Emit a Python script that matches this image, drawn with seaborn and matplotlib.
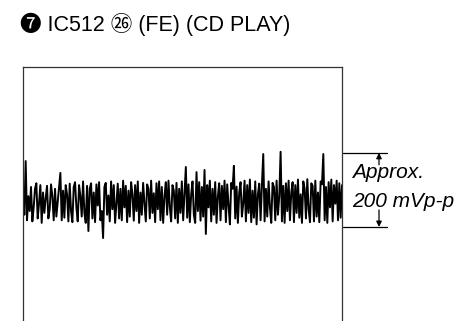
import matplotlib
matplotlib.use("Agg")
import matplotlib.pyplot as plt
import seaborn as sns
import pandas as pd

# Waveform samples in mV (left to right)
signal_mv = [
    15, -40, 105, -55, 10, -30, 35, -58, -20, 30, 45, -50, -10, 40, -62, 20, -35, 5, 38, -50,
    -25, 42, 10, -55, 30, -45, -5, 36, 73, -55, 25, -48, 40, 15, -58, 44, -30, -60, 35, 48,
    -20, -58, 40, 10, -45, 50, -35, -62, 38, -84, 30, 45, -50, 20, -60, 42, -15, 48, -55, -30,
    -103, 35, 46, -40, 12, -58, 50, -25, 40, -62, -10, 44, -50, 30, -55, 52, -20, 38, -60, 25,
    -45, 48, 15, -56, 40, -30, 50, -62, 20, -40, 46, -10, -58, 42, 30, -50, 52, -35, 18, -60,
    45, -25, 50, -55, 35, -62, 10, 48, -40, 52, -20, -58, 40, 25, -50, 46, -62, 30, -35, 50,
    -55, 20, 89, -48, 42, -60, 15, 50, -40, -62, 75, -30, 48, -56, 35, -45, 81, -92, 40, -20,
    52, -58, 30, -40, 48, -62, 10, 45, -55, 38, -25, 52, -60, 42, -15, -66, 46, 30, 92, -50,
    36, -62, 20, 48, -45, -10, 52, -58, 40, -35, 55, -60, 25, -48, 50, -66, 15, 44, -55, 40,
    124, -58, 30, -45, 50, -20, -62, 46, 35, -55, 52, -40, 10, 130, -58, 38, -62, 45, -30, 52,
    -55, 20, 48, -60, 40, -35, 55, -48, 15, -62, 50, 30, -50, 56, -25, -60, 45, 38, -58, 52,
    -45, 20, -60, 50, 42, 124, -55, 35, -62, 48, -20, 55, -58, 40, -10, 52, -55, 45, -48, 40,
]
sample_idx = list(range(len(signal_mv)))

title_text = "\u277c IC512 \u3256 (FE) (CD PLAY)"
annot_lines = ["Approx.", "200 mVp-p"]
pp_top_mv = 127
pp_bottom_mv = -73

sns.set_style("white")
fam = ["Liberation Sans", "Noto Sans CJK JP", "DejaVu Sans"]

fig = plt.figure(figsize=(4.58, 3.21), dpi=100)
W, H = 458, 321
ax = fig.add_axes([23 / W, 0, 319 / W, 254 / H])

df = pd.DataFrame({"t": sample_idx, "v": signal_mv})
sns.lineplot(data=df, x="t", y="v", ax=ax, color="black", lw=1.4, errorbar=None)

ax.set_xlim(0, len(signal_mv) - 1)
ax.set_ylim(-327, 359)
ax.set_xticks([])
ax.set_yticks([])
ax.set_xlabel("")
ax.set_ylabel("")
for s in ["left", "top", "right"]:
    ax.spines[s].set_visible(True)
    ax.spines[s].set_color("#333333")
    ax.spines[s].set_linewidth(0.9)
ax.spines["bottom"].set_visible(False)

tr = ax.get_yaxis_transform()
for yv in (pp_top_mv, pp_bottom_mv):
    ax.plot([1.003, 1.141], [yv, yv], transform=tr, color="black", lw=0.9, clip_on=False)
ax.annotate("", xy=(1.116, pp_top_mv), xytext=(1.116, 95), xycoords=tr, textcoords=tr,
            arrowprops=dict(arrowstyle="-|>", color="black", lw=0.9, mutation_scale=8,
                            shrinkA=0, shrinkB=0))
ax.annotate("", xy=(1.116, pp_bottom_mv), xytext=(1.116, -27), xycoords=tr, textcoords=tr,
            arrowprops=dict(arrowstyle="-|>", color="black", lw=0.9, mutation_scale=8,
                            shrinkA=0, shrinkB=0))
ax.text(1.031, 75, annot_lines[0], transform=tr, ha="left", va="center",
        fontsize=15, style="italic", family=fam, color="black")
ax.text(1.031, -5, annot_lines[1], transform=tr, ha="left", va="center",
        fontsize=15, style="italic", family=fam, color="black")

fig.text(20 / W, 1 - 24 / H, title_text, ha="left", va="center", fontsize=15.5,
         family=fam, color="black")

fig.savefig("out.png", dpi=100)
